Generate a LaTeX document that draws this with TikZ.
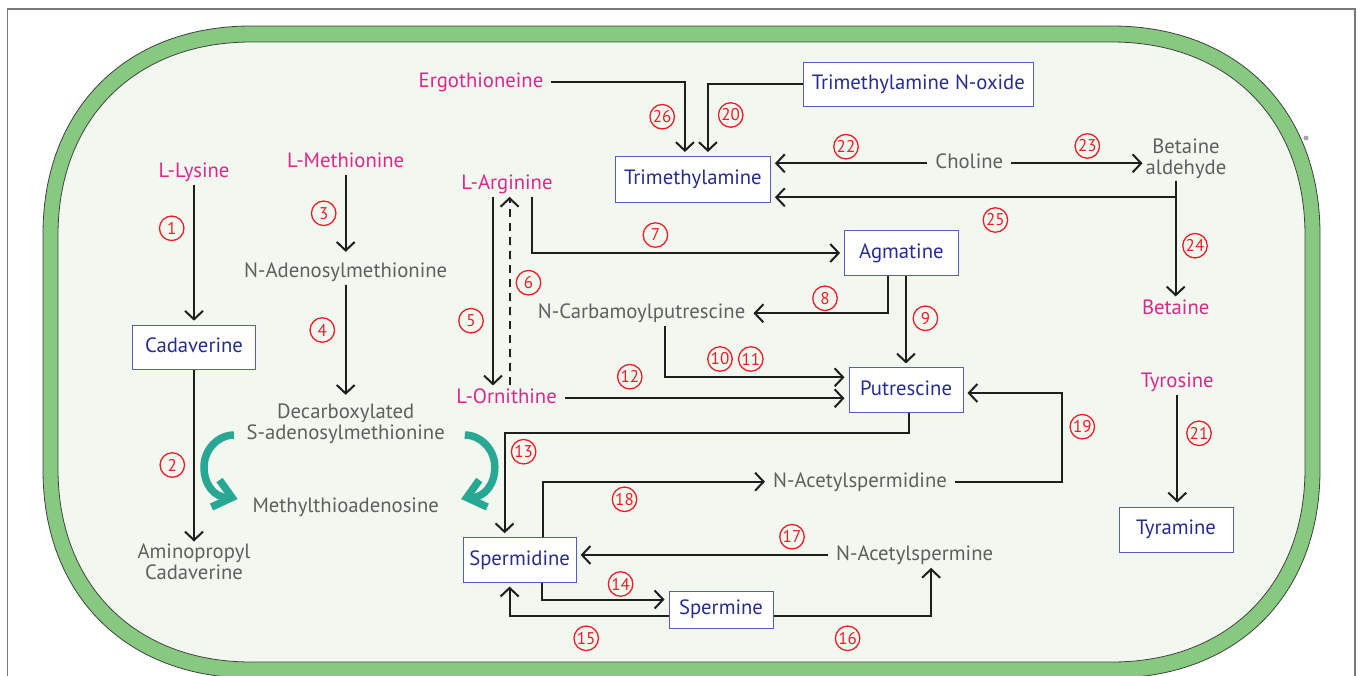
\documentclass[tikz,border=0pt]{standalone}
\usepackage{fontspec}
\usetikzlibrary{arrows.meta}
\newfontfamily\ptsans{PT Sans}
\newcommand\lfont{\ptsans\fontsize{20.7}{21}\selectfont}
\newcommand\nfont{\ptsans\fontsize{17}{17}\selectfont}
\definecolor{magc}{RGB}{220,40,140}
\definecolor{grayc}{RGB}{95,95,95}
\definecolor{dbluec}{RGB}{40,45,140}
\definecolor{boxc}{RGB}{90,90,185}
\definecolor{redc}{RGB}{235,30,40}
\definecolor{tealc}{RGB}{40,168,148}
\definecolor{cellg}{RGB}{135,201,128}
\definecolor{cellbg}{RGB}{242,248,239}
\definecolor{framec}{RGB}{120,120,120}
\definecolor{linec}{RGB}{30,30,30}
\tikzset{
 lab/.style={font=\lfont, inner xsep=8pt, inner ysep=4pt, text height=14pt, text depth=3.3pt},
 aa/.style={lab, text=magc},
 gg/.style={lab, text=grayc},
 gg2/.style={font=\lfont, text=grayc, align=center, inner xsep=3pt, inner ysep=2pt},
 bx/.style={draw=boxc, fill=white, line width=1pt, text=dbluec, font=\lfont, inner sep=0pt, text height=14pt, text depth=3.3pt},
 num/.style={circle, draw=redc, line width=1.3pt, text=redc, font=\nfont, inner sep=0pt, minimum size=24.5pt},
 ln/.style={draw=linec, line width=2pt},
 conn/.style={ln, -{Straight Barb[length=8.5pt,width=18pt]}},
 tobox/.style={conn, shorten >=4pt},
 curv/.style={draw=tealc, line width=7.5pt},
}
\begin{document}
\begin{tikzpicture}[x=1pt,y=-1pt]
\useasboundingbox (0,0) rectangle (1358,675);
\fill[white] (0,0) rectangle (1358,675);
\draw[framec, line width=1.2pt] (7.5,690) -- (7.5,9) -- (1355,9) -- (1355,690);
% cell
\filldraw[fill=cellg, draw=black!75, line width=0.8pt] (43,234) .. controls (43,109) and (126,26) .. (251,26) -- (1112,26) .. controls (1237,26) and (1320,109) .. (1320,234) -- (1320,470) .. controls (1320,595) and (1237,678) .. (1112,678) -- (251,678) .. controls (126,678) and (43,595) .. (43,470) -- cycle;
\filldraw[fill=cellbg, draw=black!75, line width=0.8pt] (58,235) .. controls (58,119) and (135,42) .. (251,42) -- (1112,42) .. controls (1228,42) and (1305,119) .. (1305,235) -- (1305,469) .. controls (1305,585) and (1228,662) .. (1112,662) -- (251,662) .. controls (135,662) and (58,585) .. (58,469) -- cycle;
\fill[black!35] (1306,138) circle (2.5pt);
% nodes
\node[aa] (ergo) at (481,81.7) {Ergothioneine};
\node[bx, minimum width=230pt, minimum height=44pt] (tmao) at (918.3,84.2) {Trimethylamine N-oxide};
\node[bx, minimum width=155pt, minimum height=46pt] (tma) at (692.9,179.5) {Trimethylamine};
\node[gg] (chol) at (969.3,163.3) {Choline};
\node[gg2] (bal) at (1186,158.5) {Betaine\\aldehyde};
\node[aa] (bet) at (1175.7,309.3) {Betaine};
\node[aa] (lys) at (194,171.7) {L-Lysine};
\node[bx, minimum width=123pt, minimum height=44pt] (cad) at (194,347.2) {Cadaverine};
\node[gg2] (apc) at (194,561.7) {Aminopropyl\\Cadaverine};
\node[aa] (met) at (345.7,161.7) {L-Methionine};
\node[gg] (sam) at (345.7,271.7) {N-Adenosylmethionine};
\node[gg2] (dsam) at (345.7,424) {Decarboxylated\\S-adenosylmethionine};
\node[gg] (mta) at (345.7,506.7) {Methylthioadenosine};
\node[aa] (arg) at (507,184) {L-Arginine};
\node[aa] (orn) at (506.6,398.3) {L-Ornithine};
\node[bx, minimum width=113.6pt, minimum height=44.6pt] (agm) at (901.4,253) {Agmatine};
\node[gg] (ncp) at (641.6,313.3) {N-Carbamoylputrescine};
\node[bx, minimum width=114pt, minimum height=44.7pt] (put) at (906,390.3) {Putrescine};
\node[gg] (nasd) at (860,481.7) {N-Acetylspermidine};
\node[bx, minimum width=113pt, minimum height=44.3pt] (spd) at (519.6,559.9) {Spermidine};
\node[gg] (nasm) at (914.6,555) {N-Acetylspermine};
\node[bx, minimum width=104pt, minimum height=37pt] (spm) at (721,609.5) {Spermine};
\node[aa] (tyr) at (1177.3,382.3) {Tyrosine};
\node[bx, minimum width=114pt, minimum height=45pt] (tyra) at (1176,529.5) {Tyramine};
% connectors
\draw[tobox] (ergo.east) -| ([xshift=-8pt]tma.north);
\draw[tobox] (tmao.west) -| ([xshift=15pt]tma.north);
\draw[tobox] (chol.west) -- (chol.west -| tma.east);
\draw[conn] (chol.east) -- (chol.east -| bal.west);
\draw[conn] (bet.north |- bal.south) -- (bet.north);
\coordinate (k25) at (1175.7,197.3);
\draw[tobox] (k25) -- (k25 -| tma.east);
\draw[tobox] (lys.south) -- (cad.north);
\draw[conn] (cad.south) -- (apc.north);
\draw[conn, shorten >=7pt] (met.south) -- (sam.north);
\draw[conn, shorten >=7pt] (sam.south) -- (dsam.north);
\draw[conn] ([xshift=-14pt]arg.south) -- ([xshift=-14pt]arg.south |- orn.north);
\draw[conn, dash pattern=on 8pt off 6pt] ([xshift=3pt]orn.north) -- ([xshift=3pt]orn.north |- arg.south);
\draw[tobox] ([xshift=25pt]arg.south) |- (agm.west);
\draw[conn] ([xshift=-13pt]agm.south) |- (ncp.east);
\draw[tobox] (put.north |- agm.south) -- (put.north);
\draw[tobox] ([xshift=23.4pt]ncp.south) |- ([yshift=13pt]put.west);
\draw[tobox] (orn.east) -- (orn.east -| put.west);
\draw[tobox] ([xshift=3pt]put.south) -- ++(0,19.5) -| ([xshift=-15pt]spd.north);
\draw[conn] ([xshift=23pt]spd.north) |- (nasd.west);
\coordinate (k19) at (1061.7,393);
\draw[tobox] (nasd.east) -| (k19) -- (k19 -| put.east);
\draw[tobox] (nasm.west) -- (nasm.west -| spd.east);
\draw[tobox] ([xshift=22pt]spd.south) |- ([yshift=10pt]spm.west);
\draw[tobox] ([yshift=-6.5pt]spm.west) -| ([xshift=-10pt]spd.south);
\draw[conn] ([yshift=-6.5pt]spm.east) -| ([xshift=16.5pt]nasm.south);
\draw[tobox] (tyr.south) -- (tyr.south |- tyra.north);
% teal curved arrows
\draw[curv] (234,435) .. controls (218.3,435) and (204,449.3) .. (204,467) .. controls (204,484.7) and (214,497) .. (228,498);
\draw[curv, line join=miter] (219.5,480) -- (232,497.5) -- (211.5,507);
\draw[curv] (464.8,435) .. controls (480.5,435) and (494.8,449.3) .. (494.8,467) .. controls (494.8,484.7) and (484.8,497) .. (470.8,498);
\draw[curv, line join=miter] (479.3,480) -- (466.8,497.5) -- (487.3,507);
% numbers
\foreach \n/\x/\y in {1/171.7/228.3, 2/172.3/465, 3/323.7/213.3, 4/322.3/330, 5/471/320.7, 6/528.5/282.7, 7/655.4/235, 8/825/298.3, 9/925.4/318.3, 10/720/359, 11/750.8/359, 12/629.8/376.7, 13/523.6/451.7, 14/620.6/584, 15/586.2/638.3, 16/847.6/638.3, 17/792/536.7, 18/624.5/499.3, 19/1082.3/426.7, 20/730.7/115, 21/1199/433.3, 22/846/146.7, 23/1087.3/146, 24/1195/245.7, 25/995.4/220, 26/662.2/116.7}
  \node[num] (n\n) at (\x,\y) {\n};
\end{tikzpicture}
\end{document}
